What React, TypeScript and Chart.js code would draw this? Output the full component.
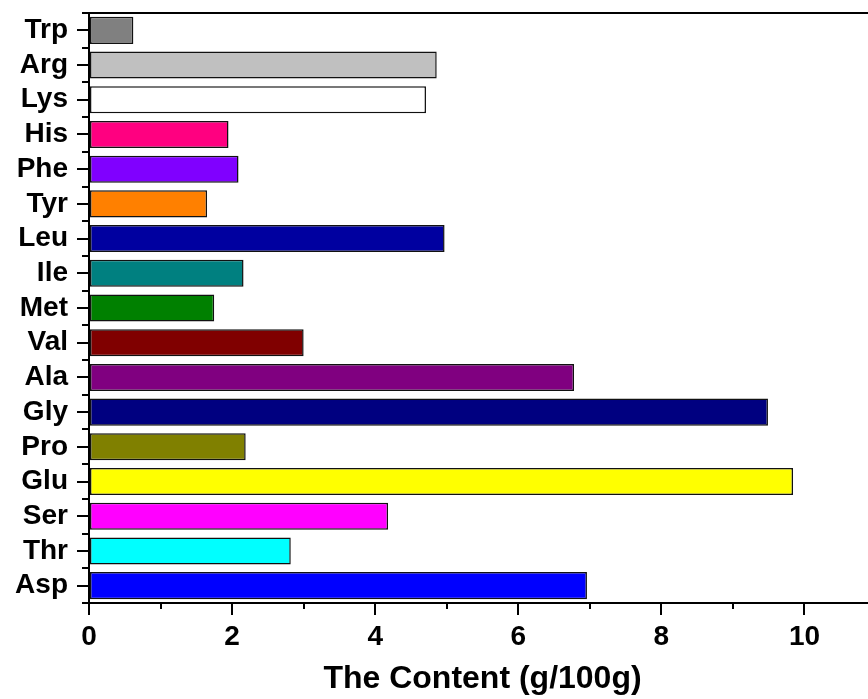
import React, { useEffect, useRef } from 'react';
import { Chart, registerables } from 'chart.js';

Chart.register(...registerables);

// Data (bottom to top, as in the figure)
const aminoAcids = ['Asp', 'Thr', 'Ser', 'Glu', 'Pro', 'Gly', 'Ala', 'Val', 'Met', 'Ile', 'Leu', 'Tyr', 'Phe', 'His', 'Lys', 'Arg', 'Trp'];
const contents = [6.96, 2.82, 4.18, 9.84, 2.19, 9.49, 6.78, 3.0, 1.75, 2.16, 4.97, 1.65, 2.09, 1.95, 4.71, 4.86, 0.62];
const barColors = ['#0000FF', '#00FFFF', '#FF00FF', '#FFFF00', '#808000', '#000080', '#800080', '#800000', '#008000', '#008080', '#0000A0', '#FF8000', '#8000FF', '#FF0080', '#FFFFFF', '#C0C0C0', '#808080'];
const xMin = 0;
const xMax = 11;
const xStep = 2;
const xMinorTicks = [1, 3, 5, 7, 9];
const xTitle = 'The Content (g/100g)';

const FONT = 'Arial, "Liberation Sans", Helvetica, sans-serif';

const frameAndMinorTicks = {
  id: 'frameAndMinorTicks',
  afterDraw(chart: any) {
    const { ctx, chartArea, scales } = chart;
    const x = scales.x;
    const y = scales.y;
    ctx.save();
    ctx.strokeStyle = '#000';
    ctx.lineWidth = 2;
    // top frame line
    ctx.beginPath();
    ctx.moveTo(chartArea.left - 1, chartArea.top);
    ctx.lineTo(chart.width, chartArea.top);
    ctx.stroke();
    // x minor ticks
    for (const v of xMinorTicks) {
      const px = Math.round(x.getPixelForValue(v));
      ctx.beginPath();
      ctx.moveTo(px, chartArea.bottom);
      ctx.lineTo(px, chartArea.bottom + 6);
      ctx.stroke();
    }
    // y minor ticks at category boundaries
    for (let i = 0; i <= aminoAcids.length; i++) {
      const py = Math.round(y.getPixelForValue(i - 0.5));
      ctx.beginPath();
      ctx.moveTo(chartArea.left - 7, py);
      ctx.lineTo(chartArea.left, py);
      ctx.stroke();
    }
    ctx.restore();
  },
};

export default function App() {
  const ref = useRef<HTMLCanvasElement | null>(null);

  useEffect(() => {
    if (!ref.current) return;
    const chart = new Chart(ref.current, {
      type: 'bar',
      data: {
        labels: aminoAcids,
        datasets: [
          {
            data: contents,
            backgroundColor: barColors,
            borderColor: '#111',
            borderWidth: 1.5,
            borderSkipped: false,
            categoryPercentage: 1,
            barPercentage: 0.78,
          },
        ],
      },
      plugins: [frameAndMinorTicks],
      options: {
        indexAxis: 'y',
        responsive: false,
        animation: false,
        layout: { padding: { top: 13, right: 4, left: 0, bottom: 0 } },
        plugins: { legend: { display: false }, tooltip: { enabled: false } },
        scales: {
          x: {
            type: 'linear',
            min: xMin,
            max: xMax,
            ticks: {
              stepSize: xStep,
              includeBounds: false,
              color: '#000',
              padding: 5,
              font: { family: FONT, size: 28, weight: 'bold' },
            },
            grid: {
              drawOnChartArea: false,
              drawTicks: true,
              tickLength: 12,
              tickWidth: 2,
              tickColor: '#000',
              color: '#000',
              lineWidth: 2,
            },
            border: { display: true, color: '#000', width: 2 },
            title: {
              display: true,
              text: xTitle,
              color: '#000',
              padding: { top: 0, bottom: 1 },
              font: { family: FONT, size: 32, weight: 'bold' },
            },
            afterFit: (s: any) => {
              s.height = 96;
            },
          },
          y: {
            type: 'category',
            reverse: true,
            offset: true,
            ticks: {
              color: '#000',
              padding: 9,
              font: { family: FONT, size: 28, weight: 'bold', lineHeight: 1 },
            },
            grid: {
              offset: false,
              drawOnChartArea: false,
              drawTicks: true,
              tickLength: 12,
              tickWidth: 2,
              tickColor: '#000',
              color: '#000',
              lineWidth: 2,
            },
            border: { display: true, color: '#000', width: 2 },
            afterFit: (s: any) => {
              s.width = 89;
              s.paddingTop = 0;
              s.paddingBottom = 0;
            },
          },
        },
      } as any,
    });
    return () => chart.destroy();
  }, []);

  return (
    <div style={{ position: 'fixed', left: 0, top: 0, width: 868, height: 699, overflow: 'hidden', background: '#fff' }}>
      <canvas ref={ref} width={880} height={699} style={{ display: 'block' }} />
    </div>
  );
}
